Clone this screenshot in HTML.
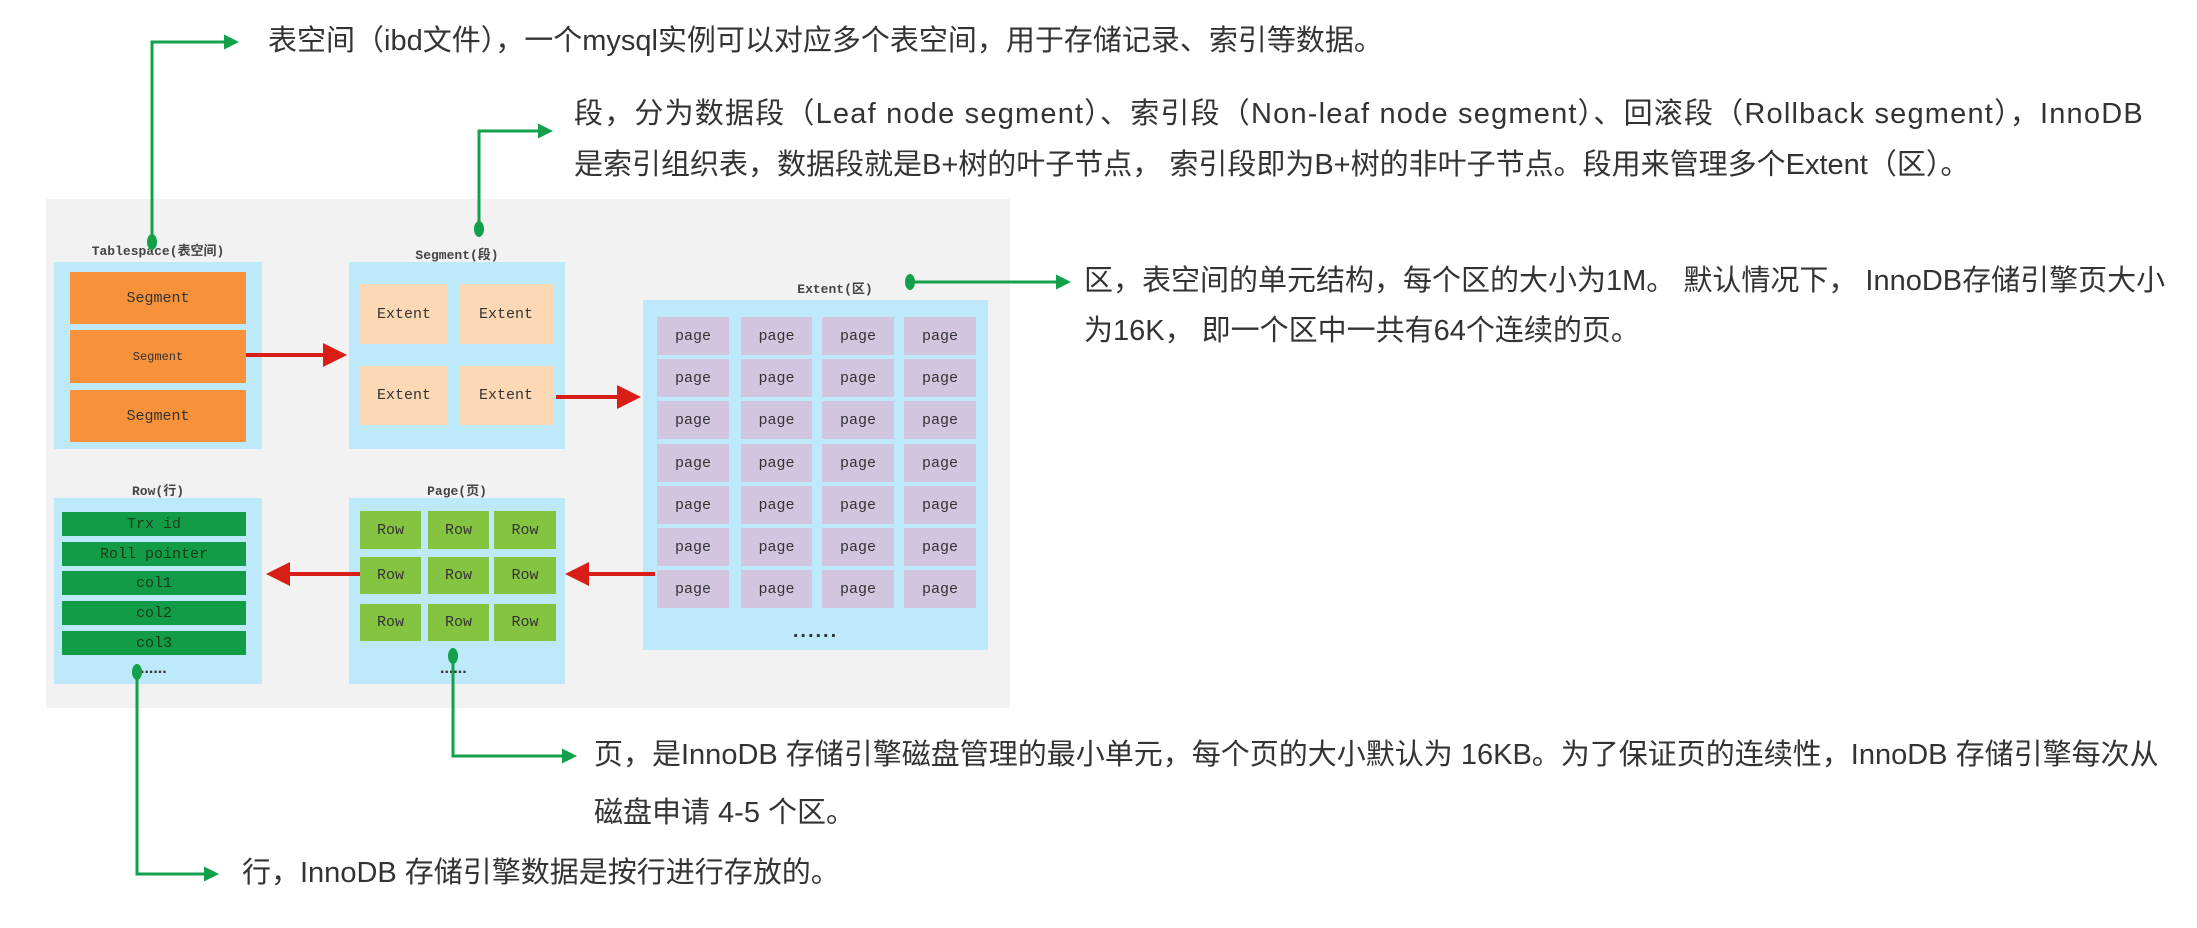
<!DOCTYPE html>
<html><head><meta charset="utf-8">
<style>
body{margin:0;width:2197px;height:928px;background:#fff;position:relative;overflow:hidden;font-family:"Liberation Sans","Noto Sans CJK SC",sans-serif}
.a{position:absolute;box-sizing:border-box}
.bg{background:#f2f2f2}
.box{background:#bde9fb}
.t{position:absolute;font-family:"Liberation Mono","Noto Sans CJK SC",monospace;font-size:13px;font-weight:bold;color:#444;text-align:center}
.c{display:flex;align-items:center;justify-content:center;font-family:"Liberation Mono","Noto Sans CJK SC",monospace;color:#333;font-size:15px}
.seg{background:#f7923a}
.ext{background:#fcd8b4}
.pg{background:#d1c5e0}
.row{background:#85c441}
.rw{background:#139c48;color:#1a3a1a}
.txt{position:absolute;font-size:29px;color:#333;white-space:nowrap;line-height:1}
</style></head><body>
<div class="a bg" style="left:46px;top:199px;width:964px;height:509px"></div>

<div class="t" style="left:54px;top:240px;width:208px">Tablespace(表空间)</div>
<div class="a box" style="left:54px;top:262px;width:208px;height:187px"></div>
<div class="a seg c" style="left:70px;top:272px;width:176px;height:52px">Segment</div>
<div class="a seg c" style="left:70px;top:330px;width:176px;height:53px;font-size:12px">Segment</div>
<div class="a seg c" style="left:70px;top:390px;width:176px;height:52px">Segment</div>

<div class="t" style="left:349px;top:244px;width:216px">Segment(段)</div>
<div class="a box" style="left:349px;top:262px;width:216px;height:187px"></div>
<div class="a ext c" style="left:360px;top:284px;width:88px;height:60px">Extent</div>
<div class="a ext c" style="left:459px;top:284px;width:94px;height:60px">Extent</div>
<div class="a ext c" style="left:360px;top:366px;width:88px;height:59px">Extent</div>
<div class="a ext c" style="left:459px;top:366px;width:94px;height:59px">Extent</div>

<div class="t" style="left:760px;top:278px;width:150px">Extent(区)</div>
<div class="a box" style="left:643px;top:300px;width:345px;height:350px"></div>
<div class="a" style="left:643px;top:620px;width:345px;text-align:center;font-size:20px;color:#333;letter-spacing:2px;font-weight:bold">......</div>

<div class="t" style="left:54px;top:480px;width:208px">Row(行)</div>
<div class="a box" style="left:54px;top:498px;width:208px;height:186px"></div>
<div class="a rw c" style="left:62px;top:512px;width:184px;height:24px">Trx id</div>
<div class="a rw c" style="left:62px;top:542px;width:184px;height:24px">Roll pointer</div>
<div class="a rw c" style="left:62px;top:571px;width:184px;height:24px">col1</div>
<div class="a rw c" style="left:62px;top:601px;width:184px;height:24px">col2</div>
<div class="a rw c" style="left:62px;top:631px;width:184px;height:24px">col3</div>
<div class="a" style="left:140px;top:660px;font-size:16px;color:#333;font-weight:bold">......</div>

<div class="t" style="left:349px;top:480px;width:216px">Page(页)</div>
<div class="a box" style="left:349px;top:498px;width:216px;height:186px"></div>
<div class="a" style="left:440px;top:660px;font-size:16px;color:#333;font-weight:bold">......</div>

<svg class="a" style="left:0;top:0" width="2197" height="928">
<defs>
<marker id="r" markerWidth="6" markerHeight="6" refX="5" refY="3" orient="auto" markerUnits="strokeWidth"><path d="M0,0L6,3L0,6z" fill="#d91e18"/></marker>
<marker id="g" markerWidth="5" markerHeight="5" refX="4" refY="2.5" orient="auto" markerUnits="strokeWidth"><path d="M0,0L5,2.5L0,5z" fill="#13a04a"/></marker>
</defs>
<g stroke="#d91e18" stroke-width="4" fill="none">
<line x1="246" y1="355" x2="343" y2="355" marker-end="url(#r)"/>
<line x1="556" y1="397" x2="637" y2="397" marker-end="url(#r)"/>
<line x1="655" y1="574" x2="569" y2="574" marker-end="url(#r)"/>
<line x1="360" y1="574" x2="270" y2="574" marker-end="url(#r)"/>
</g>
<g stroke="#13a04a" stroke-width="3" fill="none">
<polyline points="152,242 152,42 236,42" marker-end="url(#g)"/>
<polyline points="479,229 479,131 550,131" marker-end="url(#g)"/>
<polyline points="910,282 1068,282" marker-end="url(#g)"/>
<polyline points="453,656 453,756 574,756" marker-end="url(#g)"/>
<polyline points="137,672 137,874 216,874" marker-end="url(#g)"/>
</g>
<g fill="#13a04a">
<ellipse cx="152" cy="242" rx="5" ry="8"/><ellipse cx="479" cy="229" rx="5" ry="8"/>
<ellipse cx="910" cy="282" rx="5" ry="8"/><ellipse cx="453" cy="656" rx="5" ry="8"/>
<ellipse cx="137" cy="672" rx="5" ry="8"/>
</g>
</svg>

<div class="txt" style="left:268px;top:27px">表空间（ibd文件），一个mysql实例可以对应多个表空间，用于存储记录、索引等数据。</div>
<div class="txt" style="left:574px;top:100px;letter-spacing:1.2px">段，分为数据段（Leaf node segment）、索引段（Non-leaf node segment）、回滚段（Rollback segment），InnoDB</div>
<div class="txt" style="left:574px;top:151px">是索引组织表，数据段就是B+树的叶子节点， 索引段即为B+树的非叶子节点。段用来管理多个Extent（区）。</div>
<div class="txt" style="left:1084px;top:267px">区，表空间的单元结构，每个区的大小为1M。 默认情况下， InnoDB存储引擎页大小</div>
<div class="txt" style="left:1084px;top:317px">为16K， 即一个区中一共有64个连续的页。</div>
<div class="txt" style="left:594px;top:741px">页，是InnoDB 存储引擎磁盘管理的最小单元，每个页的大小默认为 16KB。为了保证页的连续性，InnoDB 存储引擎每次从</div>
<div class="txt" style="left:594px;top:799px">磁盘申请 4-5 个区。</div>
<div class="txt" style="left:242px;top:859px">行，InnoDB 存储引擎数据是按行进行存放的。</div>

<div class="a" style="left:0;top:0">
<div class="a pg c" style="left:657px;top:317px;width:72px;height:38px">page</div><div class="a pg c" style="left:741px;top:317px;width:71px;height:38px">page</div><div class="a pg c" style="left:822px;top:317px;width:72px;height:38px">page</div><div class="a pg c" style="left:904px;top:317px;width:72px;height:38px">page</div>
<div class="a pg c" style="left:657px;top:359px;width:72px;height:38px">page</div><div class="a pg c" style="left:741px;top:359px;width:71px;height:38px">page</div><div class="a pg c" style="left:822px;top:359px;width:72px;height:38px">page</div><div class="a pg c" style="left:904px;top:359px;width:72px;height:38px">page</div>
<div class="a pg c" style="left:657px;top:401px;width:72px;height:38px">page</div><div class="a pg c" style="left:741px;top:401px;width:71px;height:38px">page</div><div class="a pg c" style="left:822px;top:401px;width:72px;height:38px">page</div><div class="a pg c" style="left:904px;top:401px;width:72px;height:38px">page</div>
<div class="a pg c" style="left:657px;top:444px;width:72px;height:38px">page</div><div class="a pg c" style="left:741px;top:444px;width:71px;height:38px">page</div><div class="a pg c" style="left:822px;top:444px;width:72px;height:38px">page</div><div class="a pg c" style="left:904px;top:444px;width:72px;height:38px">page</div>
<div class="a pg c" style="left:657px;top:486px;width:72px;height:38px">page</div><div class="a pg c" style="left:741px;top:486px;width:71px;height:38px">page</div><div class="a pg c" style="left:822px;top:486px;width:72px;height:38px">page</div><div class="a pg c" style="left:904px;top:486px;width:72px;height:38px">page</div>
<div class="a pg c" style="left:657px;top:528px;width:72px;height:38px">page</div><div class="a pg c" style="left:741px;top:528px;width:71px;height:38px">page</div><div class="a pg c" style="left:822px;top:528px;width:72px;height:38px">page</div><div class="a pg c" style="left:904px;top:528px;width:72px;height:38px">page</div>
<div class="a pg c" style="left:657px;top:570px;width:72px;height:38px">page</div><div class="a pg c" style="left:741px;top:570px;width:71px;height:38px">page</div><div class="a pg c" style="left:822px;top:570px;width:72px;height:38px">page</div><div class="a pg c" style="left:904px;top:570px;width:72px;height:38px">page</div>
<div class="a row c" style="left:360px;top:511px;width:61px;height:38px">Row</div><div class="a row c" style="left:428px;top:511px;width:61px;height:38px">Row</div><div class="a row c" style="left:494px;top:511px;width:62px;height:38px">Row</div>
<div class="a row c" style="left:360px;top:557px;width:61px;height:37px">Row</div><div class="a row c" style="left:428px;top:557px;width:61px;height:37px">Row</div><div class="a row c" style="left:494px;top:557px;width:62px;height:37px">Row</div>
<div class="a row c" style="left:360px;top:604px;width:61px;height:37px">Row</div><div class="a row c" style="left:428px;top:604px;width:61px;height:37px">Row</div><div class="a row c" style="left:494px;top:604px;width:62px;height:37px">Row</div>
</div>
</body></html>
